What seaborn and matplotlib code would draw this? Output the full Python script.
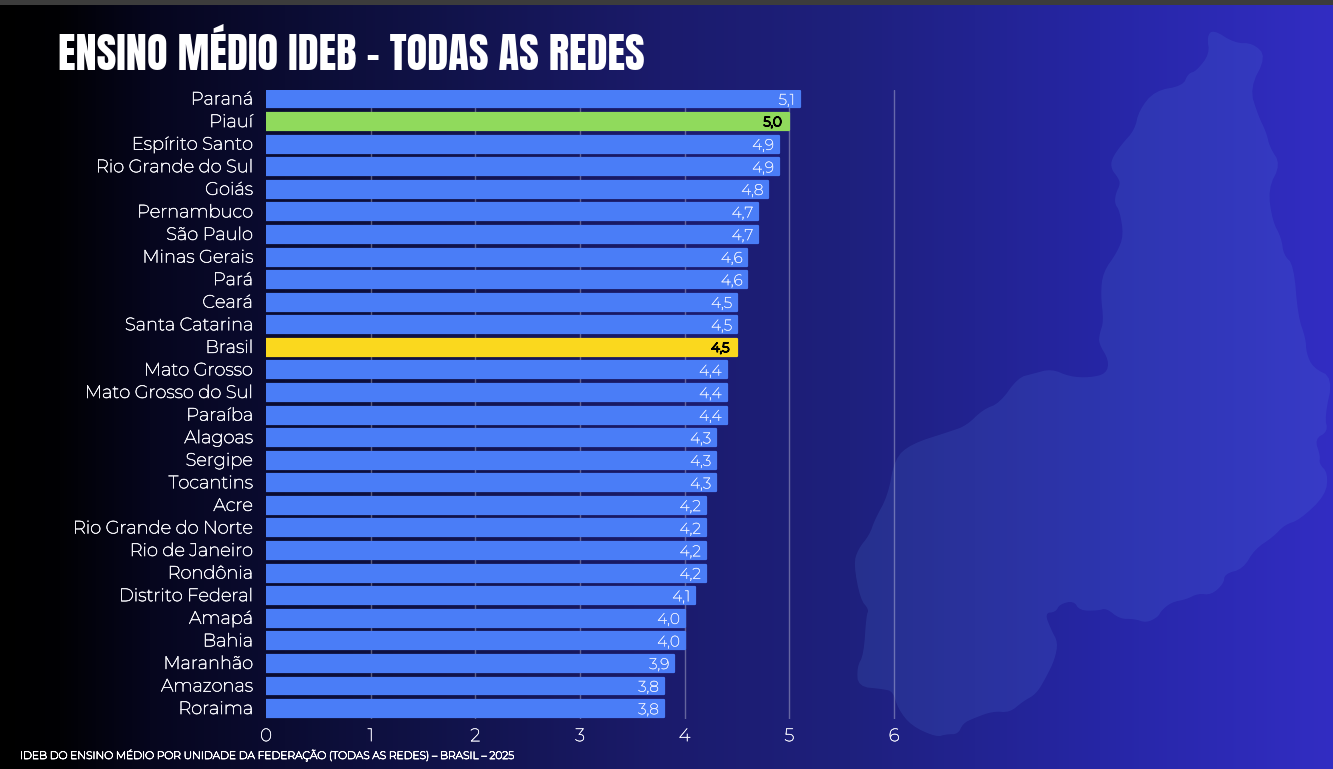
import numpy as np
import matplotlib
matplotlib.use("Agg")
import matplotlib.pyplot as plt
from matplotlib.patches import Polygon, Rectangle
from matplotlib.transforms import ScaledTranslation
import matplotlib.patheffects as pe
import seaborn as sns

states = ["Paraná", "Piauí", "Espírito Santo", "Rio Grande do Sul", "Goiás", "Pernambuco",
          "São Paulo", "Minas Gerais", "Pará", "Ceará", "Santa Catarina", "Brasil",
          "Mato Grosso", "Mato Grosso do Sul", "Paraíba", "Alagoas", "Sergipe", "Tocantins",
          "Acre", "Rio Grande do Norte", "Rio de Janeiro", "Rondônia", "Distrito Federal",
          "Amapá", "Bahia", "Maranhão", "Amazonas", "Roraima"]
ideb = [5.1, 5.0, 4.9, 4.9, 4.8, 4.7, 4.7, 4.6, 4.6, 4.5, 4.5, 4.5, 4.4, 4.4, 4.4,
        4.3, 4.3, 4.3, 4.2, 4.2, 4.2, 4.2, 4.1, 4.0, 4.0, 3.9, 3.8, 3.8]
x_ticks = [0, 1, 2, 3, 4, 5, 6]

TITLE = "ENSINO MÉDIO IDEB - TODAS AS REDES"
FOOTER = "IDEB DO ENSINO MÉDIO POR UNIDADE DA FEDERAÇÃO (TODAS AS REDES) – BRASIL – 2025"

BLUE = "#4a7df7"
GREEN = "#90da5c"
YELLOW = "#fad81e"
W, H = 1333, 769
FONT = ["Montserrat", "Open Sans", "DejaVu Sans"]
TITLE_FONT = ["Anton", "Liberation Sans"]

# background colour stops, x in pixels
grad_x = [0, 60, 150, 420, 660, 850, 1100, 1333]
grad_r = [0, 1, 6, 16, 27, 30, 38, 50]
grad_g = [0, 1, 6, 18, 27, 32, 38, 45]
grad_b = [0, 4, 30, 70, 108, 125, 165, 195]

outline = [(1140,60),(1205,88),(1260,88),(1300,115),(1250,180),(1275,235),(1300,270),(1310,300),
           (1343,335),(1305,385),(1318,450),(1345,485),(1352,520),(1382,540),(1395,645),(1418,690),
           (1420,720),(1440,750),(1500,770),(1475,850),(1485,880),(1445,895),(1462,930),(1458,945),
           (1485,965),(1478,1010),(1400,1060),(1355,1070),(1320,1095),(1265,1120),(1230,1160),
           (1175,1170),(1172,1190),(1135,1213),(1095,1210),(1060,1222),(1015,1228),(985,1245),
           (975,1258),(940,1270),(905,1262),(860,1262),(820,1240),(795,1245),(740,1245),(722,1225),
           (680,1232),(668,1248),(635,1250),(655,1285),(675,1310),(665,1345),(640,1380),(610,1415),
           (570,1430),(530,1453),(480,1450),(420,1465),(390,1475),(375,1497),(340,1497),(310,1503),
           (235,1480),(195,1445),(180,1410),(150,1405),(75,1400),(72,1360),(92,1335),(100,1255),
           (108,1243),(82,1222),(62,1150),(75,1120),(110,1090),(125,1060),(165,1010),(185,935),
           (235,905),(350,880),(400,868),(450,835),(500,822),(555,770),(600,762),(655,752),(710,768),
           (770,770),(820,762),(828,735),(797,700),(800,680),(812,655),(803,600),(810,555),(852,515),
           (872,480),(860,430),(845,415),(848,395),(862,375),(855,362),(835,345),(835,325),(865,295),
           (905,265),(918,225),(965,185),(1050,175),(1065,150),(1090,145),(1130,110),(1122,75)]


def smooth(points, rounds=2):
    # corner cutting, the map edge is soft in the reference
    pts = np.array(points, dtype=float)
    for _ in range(rounds):
        nxt = np.roll(pts, -1, axis=0)
        pts = np.column_stack([0.75 * pts + 0.25 * nxt, 0.25 * pts + 0.75 * nxt]).reshape(-1, 2)
    return pts


def thicken(text, width, color):
    # Montserrat only comes in a thin cut here, so stroke it up to the reference weight
    text.set_path_effects([pe.withStroke(linewidth=width, foreground=color)])


sns.set_theme(style="white")
plt.rcParams["font.family"] = FONT

fig = plt.figure(figsize=(W / 100, H / 100), dpi=100)

# full-figure layer: gradient, map shape, top strip
bg = fig.add_axes([0, 0, 1, 1])
xs = np.arange(W)
grad = np.stack([np.interp(xs, grad_x, c) for c in (grad_r, grad_g, grad_b)], axis=-1) / 255
bg.imshow(grad[np.newaxis, :, :], extent=(0, W, H, 0), aspect="auto")
shape = smooth([(833 + px / 3, py / 2.039) for px, py in outline])
bg.add_patch(Polygon(shape, closed=True, facecolor="#5a8ce6", alpha=0.15, edgecolor="none"))
bg.add_patch(Rectangle((0, 0), W, 5, facecolor="#3c3c3c", edgecolor="none"))
bg.set_xlim(0, W)
bg.set_ylim(H, 0)
bg.axis("off")

# chart axes placed so that x=0 is at 266px and x=6 at 894px
left, right, top, bottom = 266.0, 894.0, 90.0, 718.5
ax = fig.add_axes([left / W, 1 - bottom / H, (right + 20 - left) / W, (bottom - top) / H])
ax.patch.set_alpha(0)

colors = [GREEN if s == "Piauí" else YELLOW if s == "Brasil" else BLUE for s in states]
sns.barplot(x=ideb, y=states, hue=states, palette=colors, legend=False, width=0.75,
            saturation=1, ax=ax)

ax.set_xlim(0, (right + 20 - left) / ((right - left) / 6))
ax.set_ylim(27.44, -0.40)
ax.set_xticks(x_ticks)
ax.set_xlabel("")
ax.set_ylabel("")
ax.tick_params(axis="x", length=0, pad=7, labelsize=13, labelcolor="#f0f0fa")
ax.tick_params(axis="y", length=0, pad=9.5, labelsize=12.9, labelcolor="#f0f0f5")
up = ScaledTranslation(0, 1 / 100, fig.dpi_scale_trans)
for lab in ax.get_yticklabels():
    lab.set_transform(lab.get_transform() + up)
    thicken(lab, 0.45, "#f0f0f5")
for lab in ax.get_xticklabels():
    thicken(lab, 0.35, "#f0f0fa")
for spine in ax.spines.values():
    spine.set_visible(False)
ax.set_axisbelow(True)
ax.xaxis.grid(True, color="#ffffff", alpha=0.32, linewidth=1)
ax.yaxis.grid(False)
ax.get_xgridlines()[0].set_visible(False)

# round corners by stroking each bar in its own colour
bars = [p for p in ax.patches if p.get_width() > 0]
for bar, val, name in zip(bars, ideb, states):
    bar.set_edgecolor(bar.get_facecolor())
    bar.set_linewidth(1.6)
    bar.set_joinstyle("round")
    label = f"{val:.1f}".replace(".", ",")
    y = bar.get_y() + bar.get_height() / 2
    if name in ("Piauí", "Brasil"):
        t = ax.annotate(label, (val, y), xytext=(-5.5, -0.8), textcoords="offset points",
                        ha="right", va="center", color="black", fontsize=9.5)
        thicken(t, 1.1, "black")
    else:
        t = ax.annotate(label, (val, y), xytext=(-3.5, -1.2), textcoords="offset points",
                        ha="right", va="center", color="#e6ecff", fontsize=11)
        thicken(t, 0.3, "#e6ecff")

fig.text(58 / W, 1 - 70.5 / H, TITLE, color="white", fontsize=30.6, family=TITLE_FONT,
         ha="left", va="baseline")
foot = fig.text(20 / W, 1 - 755 / H, FOOTER, color="white", fontsize=7.7, ha="left", va="center")
thicken(foot, 0.55, "white")

fig.savefig("out.png", dpi=100)
